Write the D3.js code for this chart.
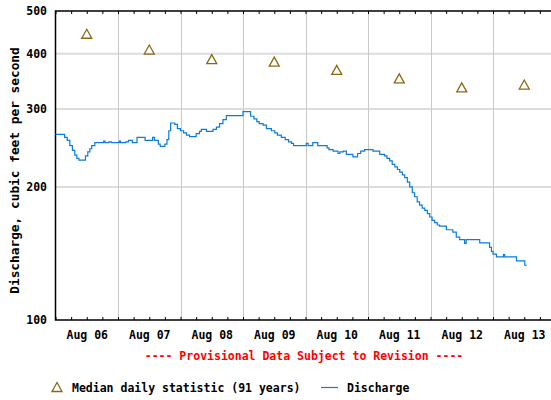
<!DOCTYPE html>
<html>
<head>
<meta charset="utf-8">
<script src="https://cdn.jsdelivr.net/npm/d3@7"></script>
<style>
  body { margin: 0; background: #fff; }
  text { font-family: "DejaVu Sans Mono", monospace; font-weight: bold; }
</style>
</head>
<body>
<script>
let size = {width: 551, height: 400};
let plot = {left: 55.5, right: 555.5, top: 11, bottom: 320};

// hours since Aug 06 00:00, discharge (cfs), stepped series
let dischargeHours = [0, 3.5, 4.5, 5.5, 6.5, 7.4, 8.2, 9, 11.5, 12.4, 13.2, 13.9, 15.1, 18.5, 19, 20.5, 21.5,
    24, 24.5, 25, 27, 28, 29.5, 31.3, 34.4, 37.3, 38, 39.5, 40.2, 42, 42.8, 43.5, 44.2, 45.8, 46.8, 48,
    49.2, 50.3, 51.5, 54, 55.3, 56, 58, 60.5, 61.8, 63, 64.3, 65.6, 72, 74.9, 76.2, 77.3, 78.2, 79.7, 81,
    82.9, 84.2, 85.2, 86.7, 88.2, 89.5, 90.6, 91.4, 96.3, 97, 98.8, 100.7, 104.3, 105, 106.6, 108.5, 109.2,
    110.5, 111.7, 114.2, 116, 117.2, 118.7, 121.9, 124.5, 126.4, 127.3, 128.3, 129.3, 130.3, 131.3, 132.2,
    133.2, 134.1, 135.1, 136, 137, 137.9, 138.9, 139.8, 140.8, 141.8, 142.8, 143.7, 144.6, 145.6, 146.6,
    147.5, 150.1, 152.6, 153.9, 155.2, 157.1, 157.7, 162.9, 166.7, 167.4, 168, 169.3, 172, 172.5, 177,
    180.2, 181];
let dischargeValues = [263, 259, 255, 248, 242, 236, 232, 230, 235, 240, 244, 248, 252, 254, 252, 253, 252,
    252, 254, 252, 253, 255, 252, 259, 255, 259, 255, 250, 247, 250, 256, 268, 279, 277, 271, 268,
    265, 262, 260, 264, 267, 270, 267, 270, 273, 278, 284, 290, 296, 289, 285, 281, 278, 276, 271,
    268, 265, 262, 259, 256, 253, 251, 248, 251, 248, 252, 248, 245, 243, 241, 238, 240,
    241, 237, 234, 238, 241, 243, 241, 237, 235, 232, 229, 225, 222, 219, 216,
    213, 210, 205, 200, 194, 190, 185, 182, 179, 177, 174, 171, 168, 166, 164,
    163, 160, 158, 154, 152, 149, 152, 149.5, 146, 143, 141, 139, 140.5, 139, 136,
    133, 133];

let medianDays = ["2013-08-06", "2013-08-07", "2013-08-08", "2013-08-09", "2013-08-10", "2013-08-11", "2013-08-12", "2013-08-13"];
let medianValues = [443, 408, 388, 383, 367, 351, 335, 340];

let yTicks = [100, 200, 300, 400, 500];
let yGrid = [200, 300, 400];

let start = new Date(2013, 7, 6);
let end = new Date(2013, 7, 14);
let parseDay = d3.timeParse("%Y-%m-%d");

let lineColor = "#0b7dd8";
let medianColor = "#8b6914";

let svg = d3.select("body").append("svg")
    .attr("width", size.width)
    .attr("height", size.height);

let x = d3.scaleTime()
    .domain([start, end])
    .range([plot.left, plot.right]);

let y = d3.scaleLog()
    .domain([100, 500])
    .range([plot.bottom, plot.top]);

// horizontal grid
svg.append("g")
    .selectAll("line")
    .data(yGrid)
    .join("line")
    .attr("x1", plot.left).attr("x2", size.width)
    .attr("y1", d => y(d)).attr("y2", d => y(d))
    .attr("stroke", "#dcdcdc")
    .attr("stroke-width", 2);

// vertical grid at midnight
svg.append("g")
    .selectAll("line")
    .data(d3.timeDay.range(d3.timeDay.offset(start, 1), end))
    .join("line")
    .attr("x1", d => Math.round(x(d)) + 0.5).attr("x2", d => Math.round(x(d)) + 0.5)
    .attr("y1", plot.top).attr("y2", plot.bottom)
    .attr("stroke", "#c8c8c8")
    .attr("stroke-width", 1);

// minor 6-hour ticks, top and bottom
let sixHours = d3.timeHour.every(6).range(start, end);
svg.append("g")
    .attr("transform", `translate(0,${plot.top})`)
    .call(d3.axisTop(x).tickValues(sixHours).tickSize(-3).tickFormat(""))
    .call(g => g.select(".domain").remove())
    .call(g => g.selectAll("line").attr("stroke", "#000"));
svg.append("g")
    .attr("transform", `translate(0,${plot.bottom})`)
    .call(d3.axisBottom(x).tickValues(sixHours).tickSize(-3).tickFormat(""))
    .call(g => g.select(".domain").remove())
    .call(g => g.selectAll("line").attr("stroke", "#000"));

// day labels at noon
let noons = d3.timeDay.range(start, end).map(d => d3.timeHour.offset(d, 12));
svg.append("g")
    .attr("transform", `translate(0,${plot.bottom})`)
    .call(d3.axisBottom(x).tickValues(noons).tickSize(0).tickPadding(11).tickFormat(d3.timeFormat("Aug %d")))
    .call(g => g.select(".domain").remove())
    .call(g => g.selectAll("text")
        .attr("font-family", "DejaVu Sans Mono")
        .attr("font-weight", "bold")
        .attr("font-size", 11.5)
        .attr("fill", "#000"));

// y labels
svg.append("g")
    .attr("transform", `translate(${plot.left},0)`)
    .call(d3.axisLeft(y).tickValues(yTicks).tickSize(0).tickPadding(8.5).tickFormat(d3.format("d")))
    .call(g => g.select(".domain").remove())
    .call(g => g.selectAll("text")
        .attr("font-family", "DejaVu Sans Mono")
        .attr("font-weight", "bold")
        .attr("font-size", 11.5)
        .attr("fill", "#000"));

// frame
svg.append("path")
    .attr("d", `M${size.width},${plot.top}H${plot.left}V${plot.bottom}H${size.width}`)
    .attr("fill", "none")
    .attr("stroke", "#000")
    .attr("stroke-width", 1.5);

// discharge line
let discharge = dischargeHours.map((h, i) => ({date: d3.timeMinute.offset(start, Math.round(h * 60)), value: dischargeValues[i]}));
let line = d3.line()
    .curve(d3.curveStepAfter)
    .x(d => x(d.date))
    .y(d => y(d.value));

svg.append("path")
    .datum(discharge)
    .attr("fill", "none")
    .attr("stroke", lineColor)
    .attr("stroke-width", 1.2)
    .attr("d", line);

// median triangles
let tri = "M0,-5L5,4L-5,4Z";
svg.append("g")
    .selectAll("path")
    .data(medianDays.map((d, i) => ({date: d3.timeHour.offset(parseDay(d), 12), value: medianValues[i]})))
    .join("path")
    .attr("transform", d => `translate(${x(d.date)},${y(d.value)})`)
    .attr("d", tri)
    .attr("fill", "none")
    .attr("stroke", medianColor)
    .attr("stroke-width", 1.3);

// y axis title
svg.append("text")
    .attr("transform", "translate(18.5,170.5) rotate(-90)")
    .attr("text-anchor", "middle")
    .attr("font-size", 12.8)
    .text("Discharge, cubic feet per second");

// provisional note
svg.append("text")
    .attr("x", 304)
    .attr("y", 360)
    .attr("text-anchor", "middle")
    .attr("font-size", 11.5)
    .attr("fill", "#ff0000")
    .text("---- Provisional Data Subject to Revision ----");

// legend
let legend = svg.append("g");
legend.append("path")
    .attr("transform", "translate(57,387.5)")
    .attr("d", tri)
    .attr("fill", "none")
    .attr("stroke", medianColor)
    .attr("stroke-width", 1.3);
legend.append("text")
    .attr("x", 72)
    .attr("y", 392)
    .attr("font-size", 11.5)
    .text("Median daily statistic (91 years)");
legend.append("line")
    .attr("x1", 321).attr("x2", 338)
    .attr("y1", 387.5).attr("y2", 387.5)
    .attr("stroke", lineColor)
    .attr("stroke-width", 1.2);
legend.append("text")
    .attr("x", 347)
    .attr("y", 392)
    .attr("font-size", 11.5)
    .text("Discharge");
</script>
</body>
</html>
